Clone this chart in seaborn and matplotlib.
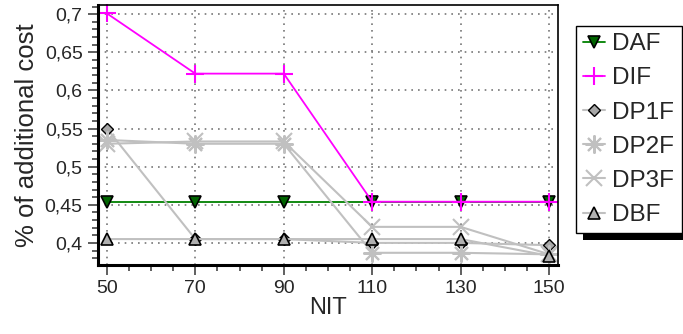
import numpy as np
import pandas as pd
import matplotlib
matplotlib.use("Agg")
import matplotlib.pyplot as plt
import seaborn as sns
from matplotlib.ticker import FixedLocator, MultipleLocator, FuncFormatter
from matplotlib.patches import Rectangle

nit = [50, 70, 90, 110, 130, 150]
daf = [0.454, 0.454, 0.454, 0.454, 0.454, 0.454]
dif = [0.701, 0.622, 0.622, 0.454, 0.454, 0.454]
dp1f = [0.550, 0.405, 0.405, 0.400, 0.400, 0.397]
dp2f = [0.535, 0.530, 0.530, 0.387, 0.387, 0.385]
dp3f = [0.530, 0.533, 0.533, 0.421, 0.421, 0.385]
dbf = [0.405, 0.405, 0.405, 0.405, 0.405, 0.383]
names = ["DAF", "DIF", "DP1F", "DP2F", "DP3F", "DBF"]
x_ticks = [50, 70, 90, 110, 130, 150]
y_ticks = [0.4, 0.45, 0.5, 0.55, 0.6, 0.65, 0.7]

sns.set_style("white")
plt.rcParams["font.family"] = ["Liberation Sans", "DejaVu Sans"]

fig = plt.figure(figsize=(6.83, 3.34), dpi=100)
ax = fig.add_axes([98 / 683, 69 / 334, 460 / 683, 260 / 334])

styles = [
    dict(color="#008000", marker="v", markersize=9, markerfacecolor="#006400",
         markeredgecolor="black", markeredgewidth=1.2, linewidth=1.3),
    dict(color="#FF00FF", marker="+", markersize=13, markeredgecolor="#FF00FF",
         markeredgewidth=1.5, linewidth=1.3),
    dict(color="#C0C0C0", marker="D", markersize=6.5, markerfacecolor="#A8A8A8",
         markeredgecolor="black", markeredgewidth=1.0, linewidth=1.5),
    dict(color="#C0C0C0", marker=(8, 2, 0), markersize=13, markeredgecolor="#C0C0C0",
         markeredgewidth=1.5, linewidth=1.5),
    dict(color="#C0C0C0", marker="x", markersize=11, markeredgecolor="#C0C0C0",
         markeredgewidth=1.5, linewidth=1.5),
    dict(color="#C0C0C0", marker="^", markersize=9, markerfacecolor="#B0B0B0",
         markeredgecolor="black", markeredgewidth=1.2, linewidth=1.5),
]
series = [daf, dif, dp1f, dp2f, dp3f, dbf]
for name, vals, st in zip(names, series, styles):
    df = pd.DataFrame({"NIT": nit, "cost": vals})
    sns.lineplot(data=df, x="NIT", y="cost", ax=ax, label=name, clip_on=False, **st)

ax.set_xlim(48, 152)
ax.set_ylim(0.371, 0.712)
ax.xaxis.set_major_locator(FixedLocator(x_ticks))
ax.xaxis.set_minor_locator(MultipleLocator(5))
ax.yaxis.set_major_locator(FixedLocator(y_ticks))
ax.yaxis.set_minor_locator(MultipleLocator(0.01))
ax.yaxis.set_major_formatter(FuncFormatter(lambda v, p: f"{v:g}".replace(".", ",")))
ax.tick_params(axis="both", which="major", direction="out", length=7, width=1.2,
               color="#444444", labelsize=14, pad=4, bottom=True, left=True)
ax.tick_params(axis="both", which="minor", direction="out", length=4, width=1.2,
               color="#444444", bottom=True, left=True)
ax.grid(True, which="major", linestyle=(0, (1, 3)), color="#777777", linewidth=1.2)
for s in ax.spines.values():
    s.set_color("black")
    s.set_linewidth(2.2)
ax.spines["top"].set_linewidth(1.2)
ax.spines["right"].set_linewidth(1.2)
ax.set_xlabel("NIT", fontsize=17, labelpad=0)
ax.set_ylabel("% of additional cost", fontsize=18.5, labelpad=4)

leg = ax.legend(loc="upper left", bbox_to_anchor=(576 / 683, 1 - 26 / 334),
                bbox_transform=fig.transFigure, borderaxespad=0, fontsize=17.5,
                frameon=True, fancybox=False, edgecolor="black", framealpha=1,
                handlelength=0.9, handletextpad=0.3, labelspacing=0.5,
                borderpad=0.3)
leg.get_frame().set_linewidth(1.0)

fig.canvas.draw()
bb = leg.get_window_extent()
inv = fig.transFigure.inverted()
(x0, y0), (x1, y1) = inv.transform([(bb.x0 + 7, bb.y0 - 7), (bb.x1 + 7, bb.y1 - 7)])
fig.patches.append(Rectangle((x0, y0), x1 - x0, y1 - y0, transform=fig.transFigure,
                             facecolor="black", edgecolor="none", zorder=-1))

fig.savefig("out.png", dpi=100)
